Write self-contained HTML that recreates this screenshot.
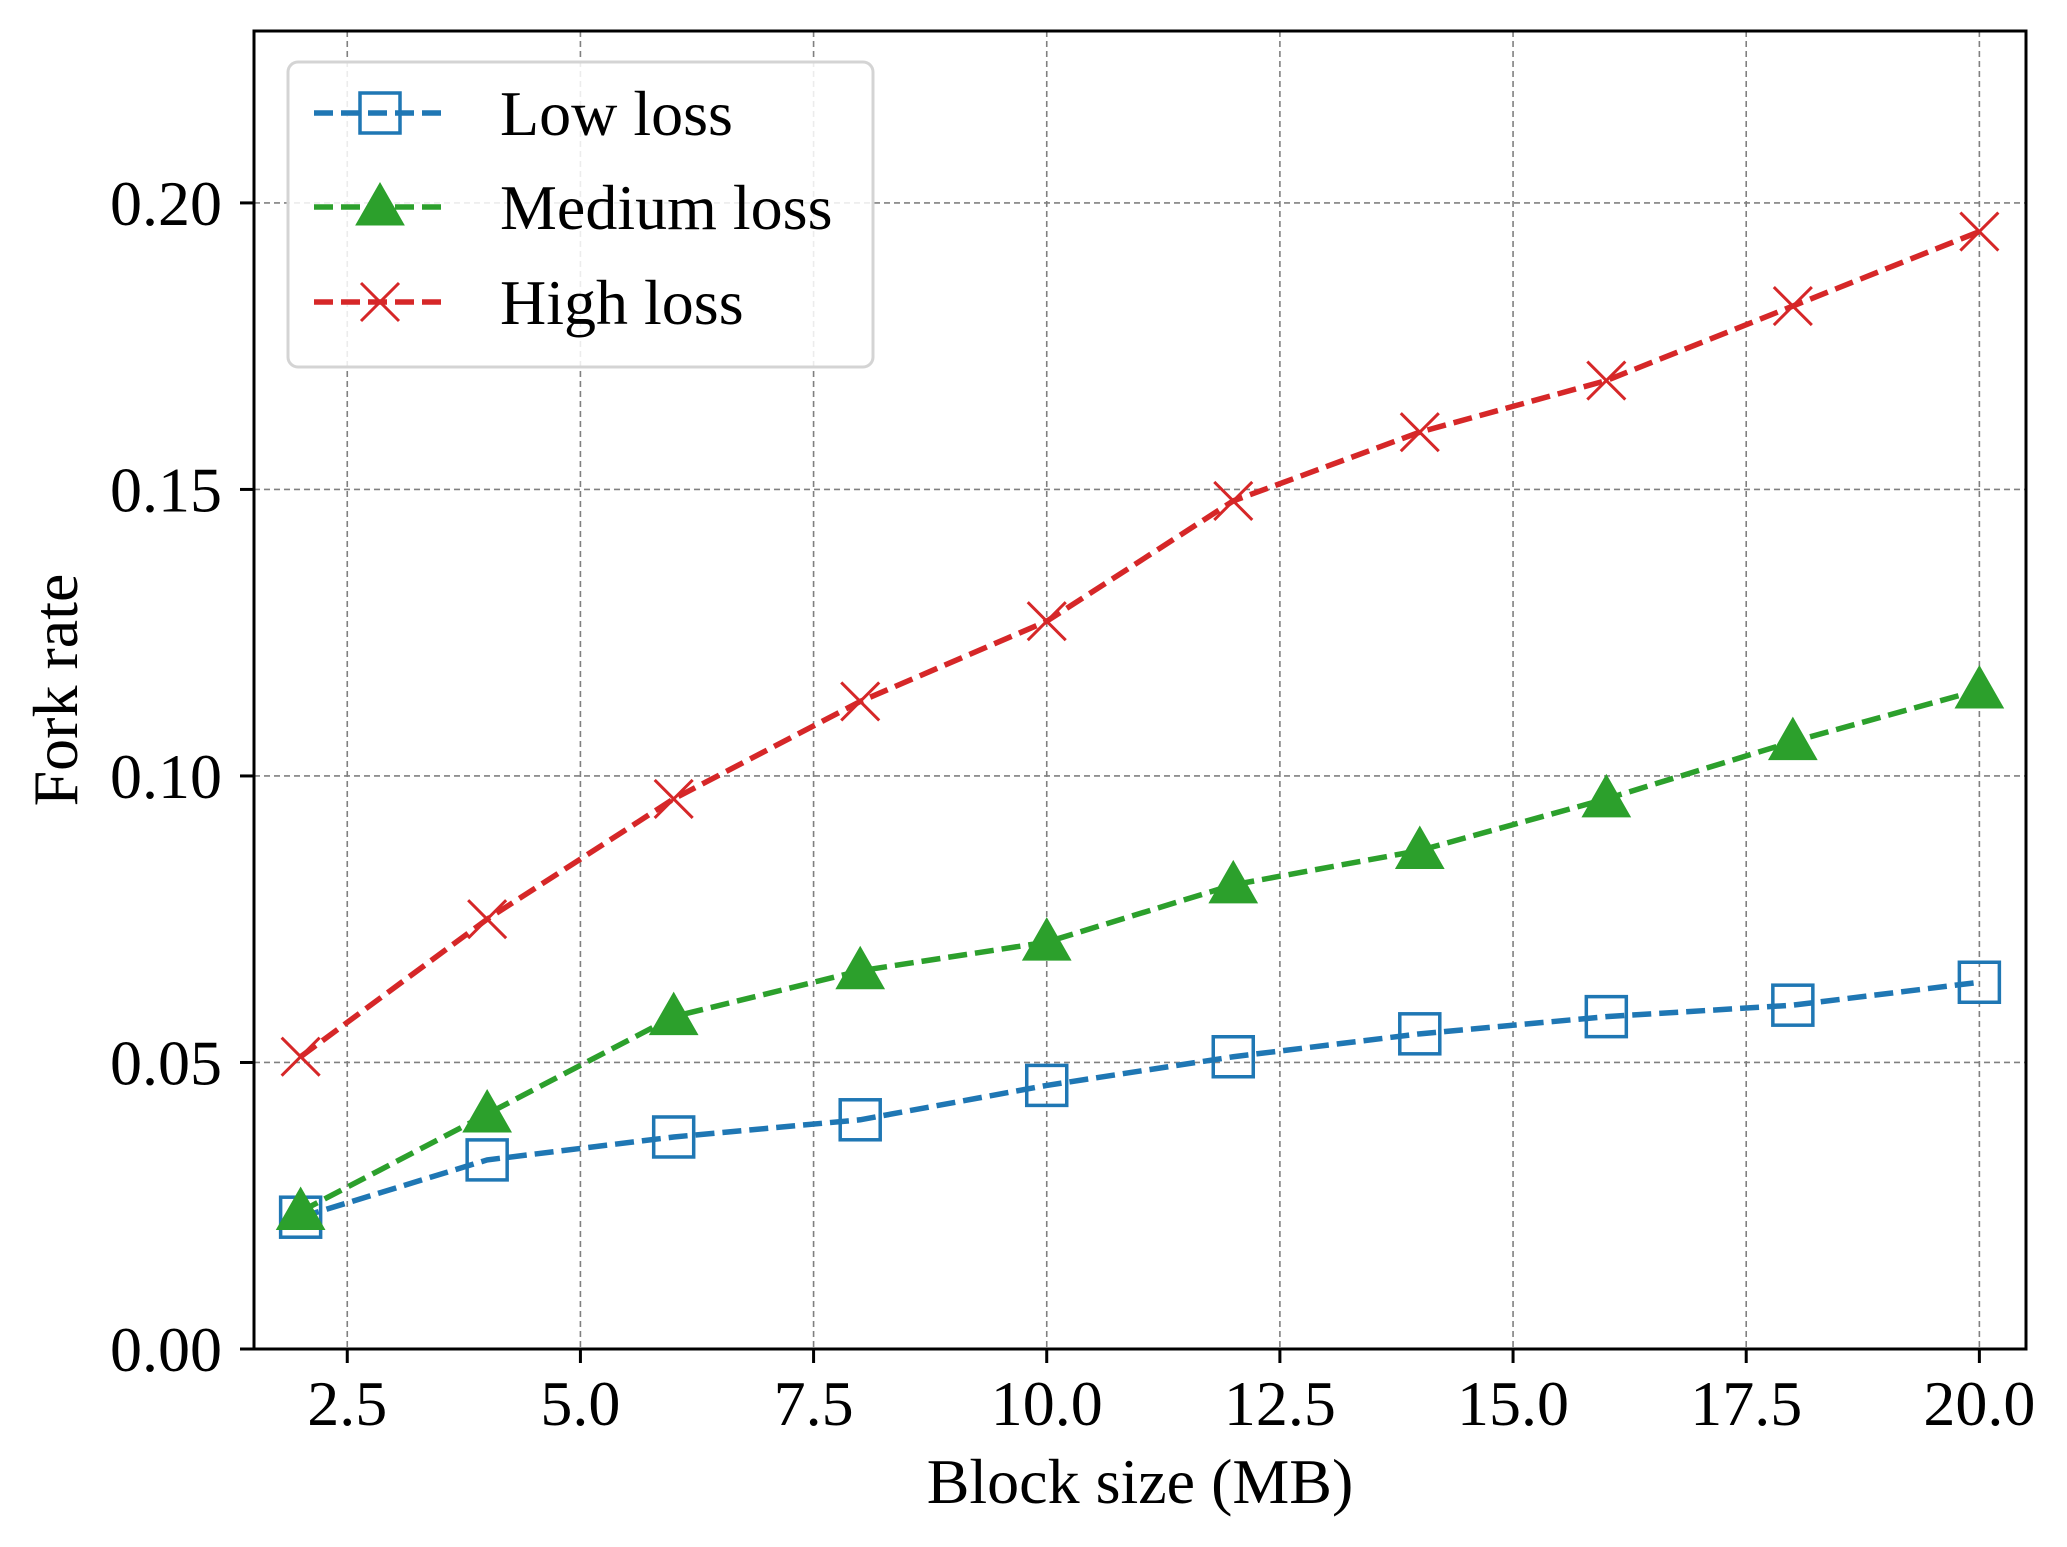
<!DOCTYPE html>
<html><head><meta charset="utf-8">
<style>
html,body{margin:0;padding:0;background:#fff;}
svg{display:block;font-family:"Liberation Serif","DejaVu Serif",serif;}
</style></head>
<body>
<svg id="chart" width="2067" height="1547" viewBox="0 0 2067 1547" xmlns="http://www.w3.org/2000/svg">
<rect width="2067" height="1547" fill="#fff"/>
<g id="grid"></g>
<g id="series"></g>
<rect x="254" y="31" width="1772" height="1318" fill="none" stroke="#000" stroke-width="3"/>
<g id="ticks"></g>
<text x="1140" y="1503" font-size="64" text-anchor="middle">Block size (MB)</text>
<text x="0" y="0" font-size="64" text-anchor="middle" transform="translate(77,690) rotate(-90)">Fork rate</text>
<g id="legend">
<rect x="288" y="62" width="585" height="305" rx="10" fill="#fff" fill-opacity="0.85" stroke="#d4d4d4" stroke-width="3"/>
</g>
</svg>
<script>
const xValues = [2, 4, 6, 8, 10, 12, 14, 16, 18, 20];
const lowLoss = [0.023, 0.033, 0.037, 0.040, 0.046, 0.051, 0.055, 0.058, 0.060, 0.064];
const mediumLoss = [0.024, 0.041, 0.058, 0.066, 0.071, 0.081, 0.087, 0.096, 0.106, 0.115];
const highLoss = [0.051, 0.075, 0.096, 0.113, 0.127, 0.148, 0.160, 0.169, 0.182, 0.195];
const xTicks = [2.5, 5.0, 7.5, 10.0, 12.5, 15.0, 17.5, 20.0];
const yTicks = [0.00, 0.05, 0.10, 0.15, 0.20];
const seriesNames = ["Low loss", "Medium loss", "High loss"];

const NS = "http://www.w3.org/2000/svg";
const X0 = 254, X1 = 2026, Y0 = 1349, Y1 = 31;
const xMin = 1.5, xMax = 20.5, yMin = 0, yMax = 0.23;
function sx(v){ return X0 + (v - xMin) / (xMax - xMin) * (X1 - X0); }
function sy(v){ return Y0 - (v - yMin) / (yMax - yMin) * (Y0 - Y1); }
function mk(tag, attrs, parent){
  const e = document.createElementNS(NS, tag);
  for (const k in attrs) e.setAttribute(k, attrs[k]);
  parent.appendChild(e);
  return e;
}
const grid = document.getElementById('grid');
const ticks = document.getElementById('ticks');
const seriesG = document.getElementById('series');
const legend = document.getElementById('legend');

xTicks.forEach(t => {
  const x = sx(t);
  const g = mk('line', {x1:x, x2:x, y1:Y1, y2:Y0, stroke:'#808080', 'stroke-width':1.6, 'stroke-dasharray':'6,4'}, grid);
  
  
  const tk = mk('line', {x1:x, x2:x, y1:Y0, y2:Y0+14, stroke:'#000', 'stroke-width':3}, ticks);
  
  
  const lb = mk('text', {x:x, y:1425, 'font-size':64, 'text-anchor':'middle'}, ticks);
  lb.textContent = t.toFixed(1);
  
  
});
yTicks.forEach(t => {
  const y = sy(t);
  const g = mk('line', {x1:X0, x2:X1, y1:y, y2:y, stroke:'#808080', 'stroke-width':1.6, 'stroke-dasharray':'6,4'}, grid);
  
  
  const tk = mk('line', {x1:X0-14, x2:X0, y1:y, y2:y, stroke:'#000', 'stroke-width':3}, ticks);
  
  
  const lb = mk('text', {x:222, y:y+22, 'font-size':64, 'text-anchor':'end'}, ticks);
  lb.textContent = t.toFixed(2);
  
  
});

const colors = ['#1f77b4', '#2ca02c', '#d62728'];
const kinds = ['square', 'triangle', 'x'];
function marker(kind, x, y, color, parent){
  let m;
  if (kind === 'square') {
    m = mk('rect', {x:x-20, y:y-20, width:40, height:40, fill:'none', stroke:color, 'stroke-width':3.5}, parent);
  } else if (kind === 'triangle') {
    m = mk('polygon', {points:`${x},${y-24} ${x+24},${y+18} ${x-24},${y+18}`, fill:color, stroke:color, 'stroke-width':1}, parent);
  } else {
    m = mk('path', {d:`M${x-19},${y-19}L${x+19},${y+19}M${x-19},${y+19}L${x+19},${y-19}`, fill:'none', stroke:color, 'stroke-width':3}, parent);
  }
  return m;
}
[lowLoss, mediumLoss, highLoss].forEach((vals, i) => {
  const pts = xValues.map((x, j) => sx(x) + ',' + sy(vals[j])).join(' ');
  const line = mk('polyline', {points:pts, fill:'none', stroke:colors[i], 'stroke-width':5.5, 'stroke-dasharray':'19,8'}, seriesG);
  
  
  xValues.forEach((x, j) => {
    const m = marker(kinds[i], sx(x), sy(vals[j]), colors[i], seriesG);
    
    
  });
  const ly = [113, 207, 302][i];
  const ll = mk('line', {x1:314, x2:447, y1:ly, y2:ly, stroke:colors[i], 'stroke-width':5.5, 'stroke-dasharray':'19,8'}, legend);
  
  
  const lm = marker(kinds[i], 380, ly, colors[i], legend);
  
  
  const lt = mk('text', {x:500, y:ly+22, 'font-size':64}, legend);
  lt.textContent = seriesNames[i];
  
  
});
</script>
</body></html>
